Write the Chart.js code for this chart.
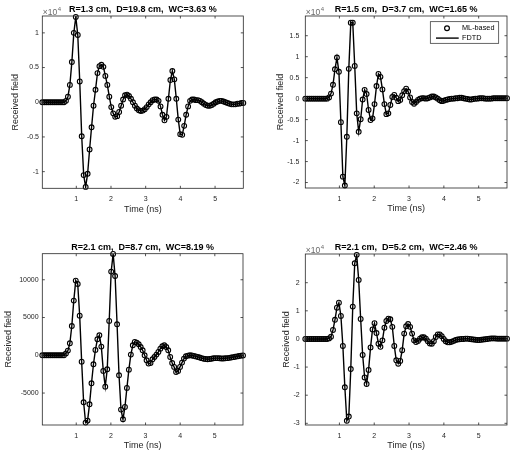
<!DOCTYPE html>
<html>
<head>
<meta charset="utf-8">
<script src="https://cdn.jsdelivr.net/npm/chart.js@4.4.0/dist/chart.umd.min.js"></script>
<style>
  body { margin: 0; background: #fff; }
  #wrap { position: relative; width: 514px; height: 454px; }
  .pane { position: absolute; width: 257px; height: 227px; }
</style>
</head>
<body>
<div id="wrap">
  <div class="pane" style="left:0;top:0"><canvas id="c1" width="257" height="227"></canvas></div>
  <div class="pane" style="left:257px;top:0"><canvas id="c2" width="257" height="227"></canvas></div>
  <div class="pane" style="left:0;top:227px"><canvas id="c3" width="257" height="227"></canvas></div>
  <div class="pane" style="left:257px;top:227px"><canvas id="c4" width="257" height="227"></canvas></div>
</div>
<script>
// sampling grid of the received signal (ns)
const t0 = 0.02;
const dt = 0.0568;
const xTicks = [1, 2, 3, 4, 5];

const titles = [
  'R=1.3 cm,  D=19.8 cm,  WC=3.63 %',
  'R=1.5 cm,  D=3.7 cm,  WC=1.65 %',
  'R=2.1 cm,  D=8.7 cm,  WC=8.19 %',
  'R=2.1 cm,  D=5.2 cm,  WC=2.46 %'
];

// received field, one value per time sample
const fieldA = [
  0, 0, 0, 0, 0, 0, 0, 0, 0, 0, 0, 0,
  200, 800, 2500, 5800, 10000, 12300, 9700, 3000, -4900, -10500,
  -12200, -10300, -6800, -3600, -500, 1800, 4200, 5200, 5400, 5100,
  3800, 2500, 800, -700, -1600, -2100, -2000, -1400, -500, 400,
  1000, 1100, 900, 500, 0, -500, -900, -1150, -1250, -1200,
  -1000, -700, -300, 0, 300, 400, 400, 200, -600, -1800,
  -2600, -2100, 500, 3200, 4500, 3300, 500, -2500, -4600, -4700,
  -3400, -1800, -600, 200, 400, 400, 300, 300, 200, 0,
  -200, -400, -500, -500, -400, -200, 0, 100, 200, 200,
  100, 0, -100, -200, -300, -300, -300, -200, -200, -100, -100
];
const fieldB = [
  0, 0, 0, 0, 0, 0, 0, 0, 0, 0, 0, 0,
  300, 1200, 3300, 7000, 9800, 6400, -5600, -18600, -20700, -9100,
  7100, 18100, 18100, 7800, -3500, -7900, -4900, -200, 2100, 1100,
  -2700, -5100, -4700, -1300, 3000, 5900, 5200, 2200, -1300, -3700,
  -3500, -1500, 400, 900, 200, -600, -300, 800, 1800, 2400,
  1700, 300, -800, -1200, -800, -300, 0, 100, 100, 0,
  100, 300, 500, 500, 300, 0, -400, -600, -500, -300,
  -200, -100, 0, 0, 100, 100, 200, 200, 100, 0,
  -100, -200, -200, -100, 0, 0, 100, 100, 100, 0,
  0, 0, 0, 100, 100, 100, 100, 100, 100, 100, 100
];
const fieldC = [
  0, 0, 0, 0, 0, 0, 0, 0, 0, 0, 0, 0,
  250, 620, 1590, 3880, 7240, 9890, 9440, 5250, -840, -6220,
  -8910, -8650, -6490, -3710, -1190, 710, 2120, 2650, 1150, -2070,
  -4150, -1850, 4550, 11080, 13420, 10500, 4100, -2650, -7190, -8470,
  -6840, -4320, -1900, 90, 1320, 1770, 1680, 1460, 1100, 660,
  0, -660, -1100, -1020, -530, -220, 90, 440, 880, 1190,
  1320, 1100, 660, -220, -1020, -1540, -2210, -2070, -1540, -970,
  -440, -130, -50, 0, -20, -80, -150, -220, -300, -380,
  -450, -500, -520, -500, -450, -400, -380, -380, -400, -420,
  -420, -400, -380, -340, -300, -250, -200, -150, -100, -50, -20
];
const fieldD = [
  0, 0, 0, 0, 0, 0, 0, 0, 0, 0, 0, 0,
  200, 800, 3200, 6800, 11100, 12900, 8200, -2500, -17200, -29100,
  -27600, -10700, 11500, 26900, 29900, 21000, 7100, -5700, -13700, -16000,
  -11000, -3000, 3400, 5600, 2100, -1700, -2800, -500, 4000, 6400,
  7200, 7000, 4300, -2500, -7600, -8800, -7800, -4000, 1900, 4500,
  5300, 4300, 1900, -500, -1100, -700, 100, 600, 600, 100,
  -800, -1600, -1700, -800, 700, 1600, 1600, 1000, 0, -800,
  -1200, -1200, -1000, -700, -400, -200, -100, 0, 0, 100,
  100, 0, -100, -200, -300, -400, -400, -300, -200, -100,
  0, 100, 200, 200, 200, 100, 100, 100, 100, 100, 100
];

const yTicksA = [-10000, -5000, 0, 5000, 10000];
const yTicksB = [-20000, -15000, -10000, -5000, 0, 5000, 10000, 15000];
const yTicksC = [-5000, 0, 5000, 10000];
const yTicksD = [-30000, -20000, -10000, 0, 10000, 20000];

const times = fieldA.map((_, i) => t0 + i * dt);

const FONT = '"Liberation Sans", Arial, sans-serif';
const AXC = '#262626';

// extra drawing: box, inward ticks, titles, exponent, legend
const framePlugin = {
  id: 'frame',
  afterDraw(chart, args, o) {
    const { ctx, chartArea: a, scales: { x, y } } = chart;
    ctx.save();
    ctx.strokeStyle = AXC;
    ctx.lineWidth = 0.8;
    ctx.strokeRect(a.left, a.top, a.right - a.left, a.bottom - a.top);
    const tl = 2.5;
    ctx.beginPath();
    x.ticks.forEach(tk => {
      const px = x.getPixelForValue(tk.value);
      ctx.moveTo(px, a.bottom); ctx.lineTo(px, a.bottom - tl);
      ctx.moveTo(px, a.top); ctx.lineTo(px, a.top + tl);
    });
    y.ticks.forEach(tk => {
      const py = y.getPixelForValue(tk.value);
      ctx.moveTo(a.left, py); ctx.lineTo(a.left + tl, py);
      ctx.moveTo(a.right, py); ctx.lineTo(a.right - tl, py);
    });
    ctx.stroke();

    const cx = (a.left + a.right) / 2;
    ctx.textAlign = 'center';
    ctx.textBaseline = 'middle';
    ctx.fillStyle = '#000';
    ctx.font = 'bold 9px ' + FONT;
    ctx.fillText(o.title, cx, a.top - 6.5);

    ctx.fillStyle = AXC;
    ctx.font = '9px ' + FONT;
    ctx.fillText('Time (ns)', cx, a.bottom + 21);
    ctx.save();
    ctx.translate(o.yLabelX, (a.top + a.bottom) / 2);
    ctx.rotate(-Math.PI / 2);
    ctx.fillText('Received field', 0, 0);
    ctx.restore();

    if (o.exponent) {
      ctx.fillStyle = '#6b6b6b';
      ctx.textAlign = 'left';
      ctx.font = '8.5px ' + FONT;
      ctx.fillText('\u00d710', a.left + 0.5, a.top - 3.5);
      const w = ctx.measureText('\u00d710').width;
      ctx.font = '6px ' + FONT;
      ctx.fillText('4', a.left + 1 + w, a.top - 6.5);
    }

    if (o.legend) {
      const bw = 68.4, bh = 21.6;
      const bx = a.right - 8.3 - bw, by = a.top + 5.7;
      ctx.fillStyle = '#fff';
      ctx.fillRect(bx, by, bw, bh);
      ctx.strokeStyle = AXC;
      ctx.lineWidth = 0.7;
      ctx.strokeRect(bx, by, bw, bh);
      const r1 = by + 6.6, r2 = by + 16.4;
      ctx.strokeStyle = '#000';
      ctx.lineWidth = 1.2;
      ctx.beginPath();
      ctx.arc(bx + 16.7, r1, 2.4, 0, Math.PI * 2);
      ctx.stroke();
      ctx.lineWidth = 1.4;
      ctx.beginPath();
      ctx.moveTo(bx + 5.7, r2); ctx.lineTo(bx + 28.4, r2);
      ctx.stroke();
      ctx.fillStyle = '#000';
      ctx.textAlign = 'left';
      ctx.font = '7.3px ' + FONT;
      ctx.fillText('ML-based', bx + 31.7, r1);
      ctx.fillText('FDTD', bx + 31.7, r2);
    }
    ctx.restore();
  }
};

function makePanel(id, values, p) {
  const pts = values.map((v, i) => ({ x: times[i], y: v }));
  return new Chart(document.getElementById(id), {
    type: 'line',
    data: {
      datasets: [
        {
          label: 'ML-based',
          data: pts,
          showLine: false,
          pointStyle: 'circle',
          pointRadius: 2.4,
          pointBorderWidth: 1.1,
          pointBorderColor: '#000',
          pointBackgroundColor: 'rgba(0,0,0,0)',
          clip: false
        },
        {
          label: 'FDTD',
          data: pts,
          borderColor: '#000',
          borderWidth: 1.4,
          pointRadius: 0,
          tension: 0,
          fill: false
        }
      ]
    },
    options: {
      responsive: false,
      animation: false,
      events: [],
      layout: { padding: { top: p.top, right: p.right, left: 0, bottom: 0 } },
      plugins: {
        legend: { display: false },
        tooltip: { enabled: false },
        frame: { title: p.title, yLabelX: p.yLabelX, exponent: p.scaled, legend: !!p.legend }
      },
      scales: {
        x: {
          type: 'linear',
          min: times[0],
          max: times[times.length - 1],
          grid: { display: false, drawTicks: false },
          border: { display: false },
          ticks: { color: AXC, font: { family: FONT, size: 7 }, padding: 7, maxRotation: 0, autoSkip: false },
          afterBuildTicks: s => { s.ticks = xTicks.map(v => ({ value: v })); },
          afterFit: s => { s.height = p.xh; }
        },
        y: {
          type: 'linear',
          min: p.ymin,
          max: p.ymax,
          grid: { display: false, drawTicks: false },
          border: { display: false },
          ticks: {
            color: AXC,
            font: { family: FONT, size: 7 },
            padding: p.yPad,
            autoSkip: false,
            callback: v => p.scaled ? String(Math.round(v / 1000) / 10) : String(v)
          },
          afterBuildTicks: s => { s.ticks = p.yTicks.map(v => ({ value: v })); },
          afterFit: s => { s.width = p.yw; }
        }
      }
    },
    plugins: [framePlugin]
  });
}

makePanel('c1', fieldA, { title: titles[0], yTicks: yTicksA, ymin: -12400, ymax: 12430, scaled: true,
  top: 16, right: 13.7, yw: 42.3, xh: 38.7, yPad: 3.3, yLabelX: 16 });
makePanel('c2', fieldB, { title: titles[1], yTicks: yTicksB, ymin: -21300, ymax: 19700, scaled: true, legend: true,
  top: 16, right: 7, yw: 48.3, xh: 39, yPad: 6, yLabelX: 23.3 });
makePanel('c3', fieldC, { title: titles[2], yTicks: yTicksC, ymin: -9230, ymax: 13450, scaled: false,
  top: 26.7, right: 14, yw: 42.3, xh: 29, yPad: 3.7, yLabelX: 8.3 });
makePanel('c4', fieldD, { title: titles[3], yTicks: yTicksD, ymin: -30600, ymax: 30200, scaled: true,
  top: 27, right: 7, yw: 48.3, xh: 29, yPad: 5.7, yLabelX: 29.3 });
</script>
</body>
</html>
